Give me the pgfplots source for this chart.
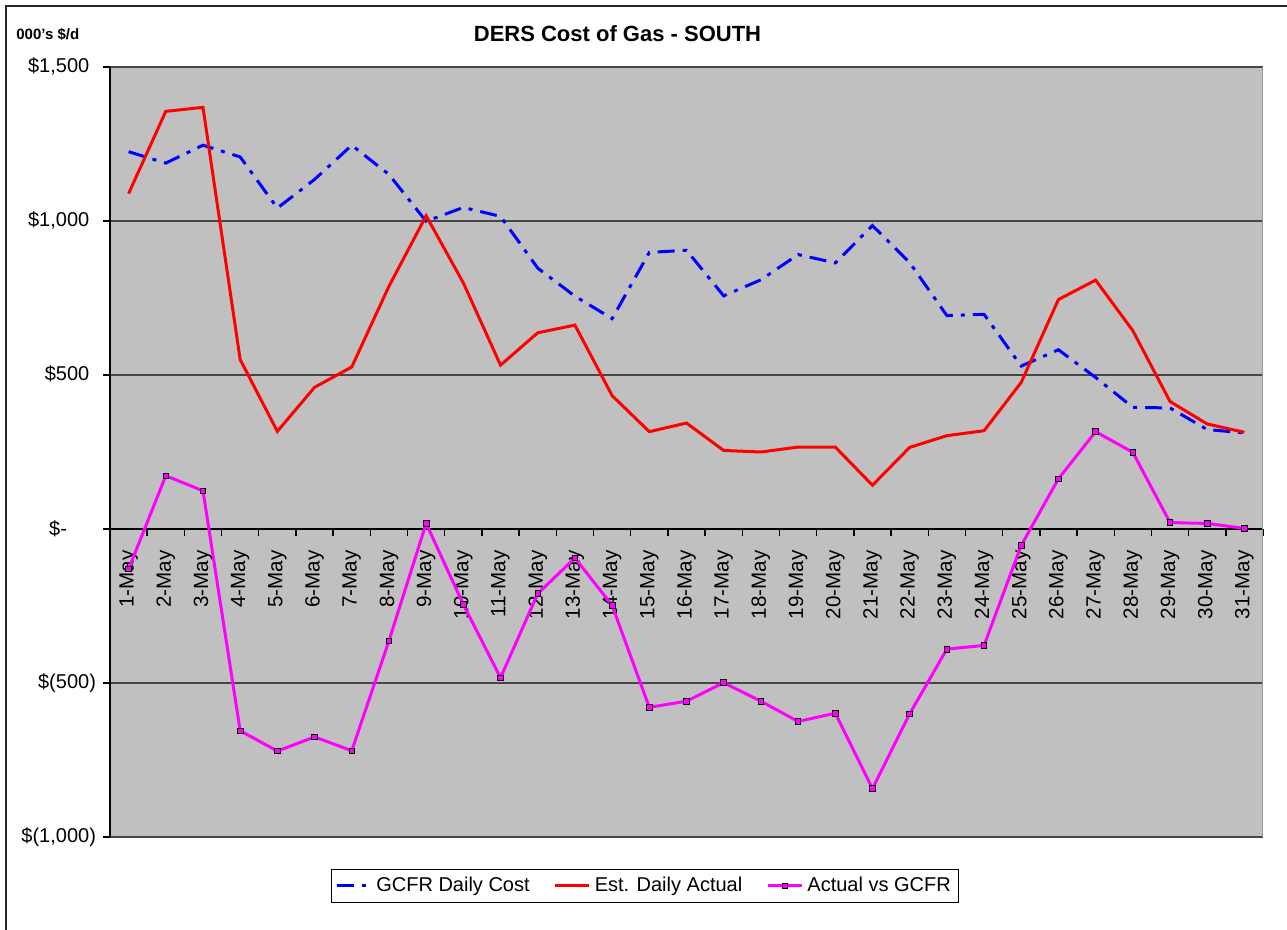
\documentclass[border=0pt]{standalone}
\usepackage{fontspec}
\setmainfont{Liberation Sans}
\usepackage{pgfplots}
\usepackage{pgfplotstable}
\pgfplotsset{compat=1.18}
\definecolor{plotbg}{RGB}{192,192,192}
\definecolor{gridc}{RGB}{70,70,70}
\definecolor{mag}{RGB}{255,0,255}
\definecolor{rd}{RGB}{255,0,0}
\definecolor{bl}{RGB}{0,0,255}
\pgfplotstableread{
x b r m
0 1225 1089 -130
1 1188 1356 173
2 1246 1369 124
3 1208 550 -655
4 1042 317 -721
5 1135 460 -675
6 1246 526 -720
7 1151 788 -363
8 999 1017 18
9 1044 799 -245
10 1015 532 -483
11 847 637 -210
12 756 662 -94
13 683 433 -248
14 898 316 -579
15 905 344 -559
16 757 255 -499
17 809 250 -559
18 891 266 -625
19 864 266 -598
20 985 142 -843
21 865 265 -600
22 693 303 -390
23 697 319 -378
24 529 476 -53
25 582 745 163
26 492 808 316
27 395 644 249
28 393 414 21
29 323 341 18
30 312 314 2
}\datatable
\begin{document}
\begin{tikzpicture}
\useasboundingbox (0,0) rectangle (643.5pt,-465pt);
\draw[line width=0.8pt, black!85] (3pt,-466pt) -- (3pt,-3pt) -- (644pt,-3pt);
\node[font=\bfseries\fontsize{11}{13}\selectfont] at (308.75pt,-17pt) {DERS Cost of Gas - SOUTH};
\node[anchor=west, font=\bfseries\fontsize{7.5}{9}\selectfont, inner sep=0pt] at (8pt,-17pt) {000's \$/d};
\begin{axis}[
 at={(55pt,-418.5pt)}, anchor=south west,
 scale only axis, width=576.5pt, height=385pt,
 xmin=-0.5, xmax=30.5, ymin=-1000, ymax=1500,
 axis x line=middle, axis y line=left,
 axis line style={-, line width=0.7pt, black},
 hide obscured x ticks=false, hide obscured y ticks=false,
 axis background/.style={fill=plotbg},
 ytick={-1000,-500,0,500,1000,1500},
 yticklabels={{\$(1,000)},{\$(500)},{\$-\rule{14.5pt}{0pt}},{\$500\phantom{)}},{\$1,000\phantom{)}},{\$1,500\phantom{)}}},
 ymajorgrids, major grid style={gridc, line width=0.7pt},
 tick align=outside, major tick length=3.5pt,
 xtick={0,...,30},
 xticklabels={1-May,2-May,3-May,4-May,5-May,6-May,7-May,8-May,9-May,10-May,11-May,12-May,13-May,14-May,15-May,16-May,17-May,18-May,19-May,20-May,21-May,22-May,23-May,24-May,25-May,26-May,27-May,28-May,29-May,30-May,31-May},
 every major x tick/.append style={draw=none},
 minor xtick={-0.5,0.5,...,30.5},
 minor tick length=3.5pt,
 every minor tick/.append style={black, line width=0.7pt},
 every tick/.append style={black, line width=0.7pt},
 xticklabel shift=6pt,
 xticklabel style={rotate=90, anchor=east, inner sep=1pt, font=\fontsize{10.3}{12}\selectfont},
 yticklabel style={font=\fontsize{10}{12}\selectfont},
 legend columns=3,
 legend style={at={(0.464,-0.0636)}, anchor=center, draw=black, fill=white, line width=0.6pt,
   font=\fontsize{10}{12}\selectfont, inner sep=2pt,
   /tikz/every even column/.append style={column sep=10pt}},
]
\addplot[bl, line width=1.5pt, dash pattern=on 8.5pt off 4pt on 2pt off 4pt] table[x=x,y=b]{\datatable};
\addlegendentry{GCFR Daily Cost}
\addplot[rd, line width=1.5pt] table[x=x,y=r]{\datatable};
\addlegendentry{Est. Daily Actual}
\addplot[mag, line width=1.5pt, mark=square*, mark size=1.4pt, mark options={solid, fill=mag, draw=black, line width=0.4pt}] table[x=x,y=m]{\datatable};
\addlegendentry{Actual vs GCFR}
\draw[gray!80, line width=0.8pt] (rel axis cs:1,0) -- (rel axis cs:1,1);
\end{axis}
\end{tikzpicture}
\end{document}
